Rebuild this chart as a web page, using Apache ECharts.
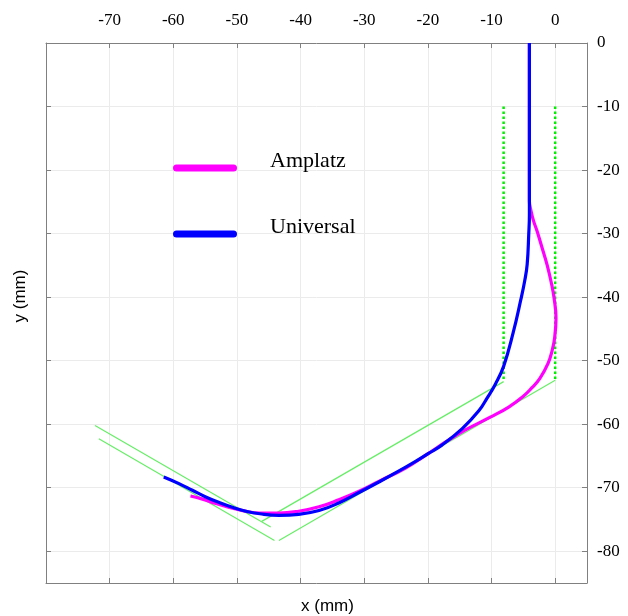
<!DOCTYPE html>
<html>
<head>
<meta charset="utf-8">
<script src="https://cdn.jsdelivr.net/npm/echarts@6/dist/echarts.min.js"></script>
<style>html,body{margin:0;padding:0;background:#fff}#c{width:628px;height:616px}</style>
</head>
<body>
<div id="c"></div>
<script>
// ---- data (mm) ----
const seriesNames = ['Amplatz', 'Universal'];
const xTickLabels = [-70, -60, -50, -40, -30, -20, -10, 0];
const yTickLabels = [0, -10, -20, -30, -40, -50, -60, -70, -80];

const amplatz = [
  [-4.05, 0], [-4.05, -10], [-4.05, -20], [-4.05, -24.9], [-3.8, -26.4], [-3.4, -28.0],
  [-2.85, -29.6], [-2.07, -32.2], [-1.29, -34.85], [-0.66, -37.5], [-0.18, -40.1],
  [0.13, -43.3], [-0.08, -46.4], [-0.5, -48.5], [-1.1, -50.4], [-2.4, -52.8],
  [-3.6, -54.2], [-5.0, -55.6], [-7.3, -57.3], [-10.2, -58.9], [-14.1, -60.9],
  [-17.2, -62.8], [-19.9, -64.6], [-23.5, -66.9], [-27.7, -69.0], [-30.9, -70.6],
  [-34.0, -71.9], [-37.1, -73.0], [-40.3, -73.7], [-43.4, -74.0], [-46.4, -74.0],
  [-49.1, -73.6], [-51.2, -73.1], [-53.3, -72.5], [-55.4, -71.8], [-57.3, -71.3]
];
const universal = [
  [-4.05, 0], [-4.05, -10], [-4.05, -20], [-4.05, -27.0], [-4.15, -30.0], [-4.4, -34.85],
  [-4.8, -37.5], [-5.4, -40.4], [-6.6, -45.6], [-8.1, -50.9], [-9.4, -53.7],
  [-10.7, -55.9], [-12.0, -57.9], [-14.6, -60.7], [-17.8, -63.3], [-19.9, -64.6],
  [-22.0, -65.9], [-24.6, -67.4], [-27.7, -69.1], [-30.9, -70.8], [-34.0, -72.4],
  [-37.1, -73.6], [-40.3, -74.2], [-43.4, -74.35], [-46.4, -74.1], [-48.6, -73.7],
  [-50.6, -73.1], [-52.7, -72.35], [-54.9, -71.45], [-57.0, -70.4], [-59.1, -69.35],
  [-61.5, -68.3]
];
// green guide lines
const guideDottedLeft = [[-8.1, -10], [-8.1, -53.3]];
const guideDottedRight = [[0.0, -10], [0.0, -53.1]];
const guideUpperLeft = [[-72.3, -60.2], [-44.7, -76.2]];
const guideLowerLeft = [[-71.7, -62.3], [-44.1, -78.3]];
const guideLowerRight = [[-43.4, -78.3], [0.0, -53.1]];
const guideUpperRight = [[-46.1, -75.3], [-8.1, -53.3]];

const chart = echarts.init(document.getElementById('c'), null, {renderer: 'canvas'});
const serif = 'Liberation Serif';
const sans = 'Liberation Sans';
const axisGray = '#808080';

function guide(data, dotted) {
  return {
    type: 'line', data: data, xAxisIndex: 0, yAxisIndex: 0,
    showSymbol: false, silent: true, z: 1,
    lineStyle: dotted ? {color: '#00f000', width: 2.5, type: [2.5, 2.5]} : {color: '#66ee66', width: 1.2}
  };
}

// legend icon: bar in lower part of a 64x21 box so that the text sits a little above the bar
const legendIcon = 'path://M0,0 M3.5,14 L60.5,14 A3.5,3.5 0 0 1 60.5,21 L3.5,21 A3.5,3.5 0 0 1 3.5,14 Z';

chart.setOption({
  animation: false,
  backgroundColor: '#fff',
  grid: {left: 46, right: 41, top: 43, bottom: 33, containLabel: false, outerBoundsMode: 'none'},
  legend: {
    orient: 'vertical', left: 173, top: 150, padding: 0,
    itemWidth: 64, itemHeight: 21, itemGap: 44,
    icon: legendIcon,
    data: seriesNames,
    textStyle: {fontFamily: serif, fontSize: 22, color: '#000', lineHeight: 21, padding: [0, 0, 0, 28]}
  },
  xAxis: [
    {
      type: 'value', position: 'top', min: -80, max: 5, interval: 10,
      axisLine: {show: true, onZero: false, lineStyle: {color: axisGray, width: 1}},
      axisTick: {show: true, inside: true, length: 5, lineStyle: {color: axisGray}},
      axisLabel: {show: true, showMinLabel: false, showMaxLabel: false, margin: 14,
        fontFamily: serif, fontSize: 17, color: '#000',
        formatter: v => (xTickLabels.indexOf(v) >= 0 ? String(v) : '')},
      splitLine: {show: true, lineStyle: {color: '#ebebeb', width: 1}}
    },
    {
      type: 'value', position: 'bottom', min: -80, max: 5, interval: 10,
      name: 'x (mm)', nameLocation: 'middle', nameGap: 15,
      nameTextStyle: {fontFamily: sans, fontSize: 17, color: '#000', padding: [0, 0, 0, 22]},
      axisLine: {show: true, onZero: false, lineStyle: {color: axisGray, width: 1}},
      axisTick: {show: true, inside: true, length: 5, lineStyle: {color: axisGray}},
      axisLabel: {show: false},
      splitLine: {show: false}
    }
  ],
  yAxis: [
    {
      type: 'value', position: 'right', min: -85, max: 0, minInterval: 10, maxInterval: 10,
      axisLine: {show: true, onZero: false, lineStyle: {color: axisGray, width: 1}},
      axisTick: {show: true, inside: true, length: 5, lineStyle: {color: axisGray}},
      axisLabel: {show: true, showMinLabel: false, margin: 10,
        fontFamily: serif, fontSize: 17, color: '#000',
        formatter: v => (yTickLabels.indexOf(v) >= 0 ? String(v) : '')},
      splitLine: {show: true, lineStyle: {color: '#ebebeb', width: 1}}
    },
    {
      type: 'value', position: 'left', min: -85, max: 0, minInterval: 10, maxInterval: 10,
      name: 'y (mm)', nameLocation: 'middle', nameGap: 17, nameRotate: 90,
      nameTextStyle: {fontFamily: sans, fontSize: 17, color: '#000', padding: [0, 0, 0, 34]},
      axisLine: {show: true, onZero: false, lineStyle: {color: axisGray, width: 1}},
      axisTick: {show: true, inside: true, length: 5, lineStyle: {color: axisGray}},
      axisLabel: {show: false},
      splitLine: {show: false}
    }
  ],
  series: [
    guide(guideDottedLeft, true),
    guide(guideDottedRight, true),
    guide(guideUpperLeft, false),
    guide(guideLowerLeft, false),
    guide(guideLowerRight, false),
    guide(guideUpperRight, false),
    {
      name: seriesNames[0], type: 'line', data: amplatz, xAxisIndex: 0, yAxisIndex: 0,
      smooth: 0.45, showSymbol: false, z: 3, color: '#ff00ff',
      lineStyle: {color: '#ff00ff', width: 3.2}
    },
    {
      name: seriesNames[1], type: 'line', data: universal, xAxisIndex: 0, yAxisIndex: 0,
      smooth: 0.45, showSymbol: false, z: 4, color: '#0000ff',
      lineStyle: {color: '#0000ff', width: 3.2}
    }
  ]
});
</script>
</body>
</html>
